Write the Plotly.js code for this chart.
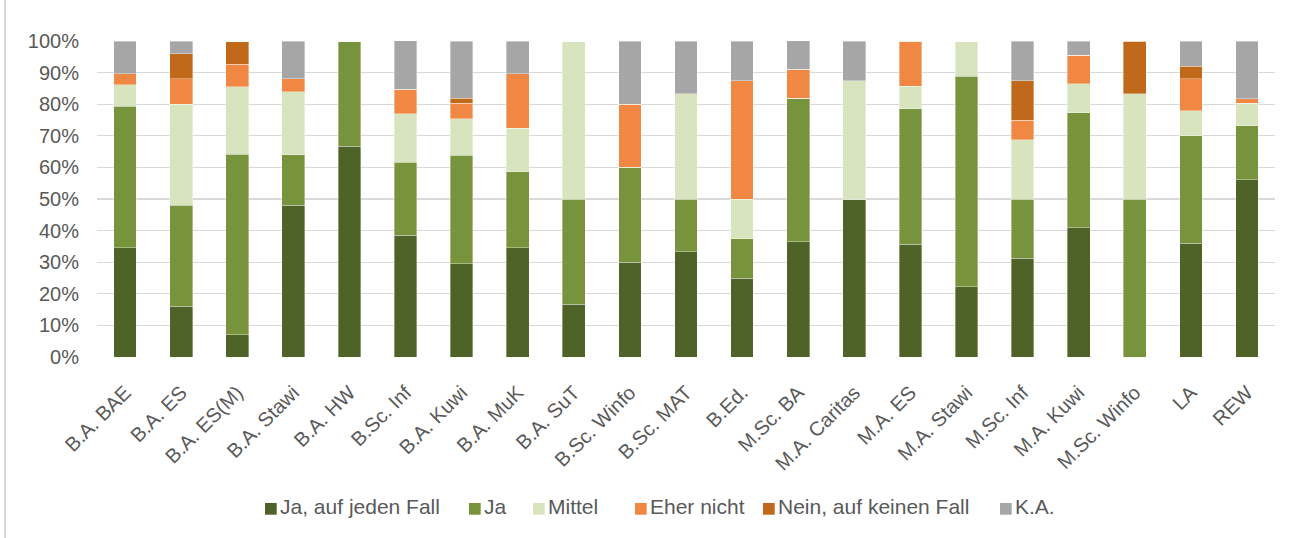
<!DOCTYPE html>
<html>
<head>
<meta charset="utf-8">
<script src="https://cdn.plot.ly/plotly-3.0.1.min.js"></script>
<style>
html,body{margin:0;padding:0;background:#fff;}
#wrap{position:relative;width:1302px;height:538px;}
#border{position:absolute;left:4px;top:0;width:0;height:538px;border-left:2px solid #d9d9d9;}
#chart{position:absolute;left:0;top:0;width:1302px;height:538px;}
</style>
</head>
<body>
<div id="wrap"><div id="chart"></div><div id="border"></div></div>
<script>
const categories = ["B.A. BAE","B.A. ES","B.A. ES(M)","B.A. Stawi","B.A. HW","B.Sc. Inf","B.A. Kuwi","B.A. MuK","B.A. SuT","B.Sc. Winfo","B.Sc. MAT","B.Ed.","M.Sc. BA","M.A. Caritas","M.A. ES","M.A. Stawi","M.Sc. Inf","M.A. Kuwi","M.Sc. Winfo","LA","REW"];
const jaAufJedenFall = [34.5,16,7.1,48,66.7,38.5,29.5,34.5,16.7,30,33.3,25,36.4,50,35.7,22.2,31.25,40.9,0,36,56.1];
const ja            = [44.8,32,57.1,16,33.3,23.1,34.4,24.1,33.3,30,16.7,12.5,45.5,0,42.9,66.7,18.75,36.4,50,34,17.1];
const mittel        = [6.9,32,21.4,20,0,15.4,11.5,13.8,50,0,33.3,12.5,0,37.5,7.1,11.1,18.75,9.1,33.3,8,7.1];
const eherNicht     = [3.4,8,7.1,4,0,7.7,4.9,17.2,0,20,0,37.5,9.1,0,14.3,0,6.25,9.1,0,10,1.4];
const neinAufKeinen = [0,8,7.1,0,0,0,1.6,0,0,0,0,0,0,0,0,0,12.5,0,16.7,4,0];
const keineAngabe   = [10.3,4,0,12,0,15.4,18.0,10.3,0,20,16.7,12.5,9.1,12.5,0,0,12.5,4.5,0,8,18.3];
const seriesNames = ["Ja, auf jeden Fall","Ja","Mittel","Eher nicht","Nein, auf keinen Fall","K.A."];
const yTickVals = [0,10,20,30,40,50,60,70,80,90,100];
const yTickText = ["0%","10%","20%","30%","40%","50%","60%","70%","80%","90%","100%"];

// styling / layout constants
const colors = ["#4f6228","#77933c","#d7e4bd","#f08843","#c0691a","#a6a6a6"];
const W = 1302, H = 538, ML = 97, MR = 27, MT = 41, MB = 181;
const PW = W - ML - MR, PH = H - MT - MB;
const legendSquareLeft = [265, 469, 533, 635, 763, 1000]; // px
const legendSquareTop = 503, sq = 11.7;
const legendTextMid = 506;
const FONT = '"Liberation Sans", Arial, sans-serif';

const values = [jaAufJedenFall, ja, mittel, eherNicht, neinAufKeinen, keineAngabe];
const traces = values.map((v,i)=>({
  type:'bar', name:seriesNames[i], x:categories, y:v,
  marker:{color:colors[i], line:{color:'rgba(255,255,255,0.6)', width:0.6}},
  hoverinfo:'skip', showlegend:false
}));

const px2x = p => (p - ML) / PW;
const px2y = p => (H - MB - p) / PH;
const shapes = [], annotations = [];
seriesNames.forEach((n,i)=>{
  const l = legendSquareLeft[i];
  shapes.push({type:'rect', xref:'paper', yref:'paper', x0:px2x(l), x1:px2x(l+sq),
    y0:px2y(legendSquareTop + sq), y1:px2y(legendSquareTop),
    fillcolor:colors[i], line:{width:0}});
  annotations.push({xref:'paper', yref:'paper', x:px2x(l+sq+1), y:px2y(legendTextMid),
    xanchor:'left', yanchor:'middle', text:n, showarrow:false,
    font:{size:21, color:'#595959', family:FONT}});
});

const layout = {
  width:W, height:H,
  margin:{l:ML, r:MR, t:MT, b:MB, pad:0, autoexpand:false},
  barmode:'stack', bargap:0.595,
  paper_bgcolor:'#fff', plot_bgcolor:'#fff',
  font:{family:FONT, color:'#595959', size:20},
  xaxis:{tickangle:-45, tickfont:{size:20,color:'#595959',family:FONT}, showgrid:false, showline:false, ticks:'', automargin:false, ticklabelstandoff:19},
  yaxis:{range:[0,100], tickvals:yTickVals, ticktext:yTickText, tickfont:{size:20,color:'#595959',family:FONT},
         showgrid:true, gridcolor:'#d9d9d9', gridwidth:1.3, zeroline:false, ticks:'', ticklen:0, automargin:false, showline:false, ticklabelstandoff:17},
  showlegend:false,
  shapes:shapes, annotations:annotations
};
Plotly.newPlot('chart', traces, layout, {staticPlot:true, displayModeBar:false});
</script>
</body>
</html>
